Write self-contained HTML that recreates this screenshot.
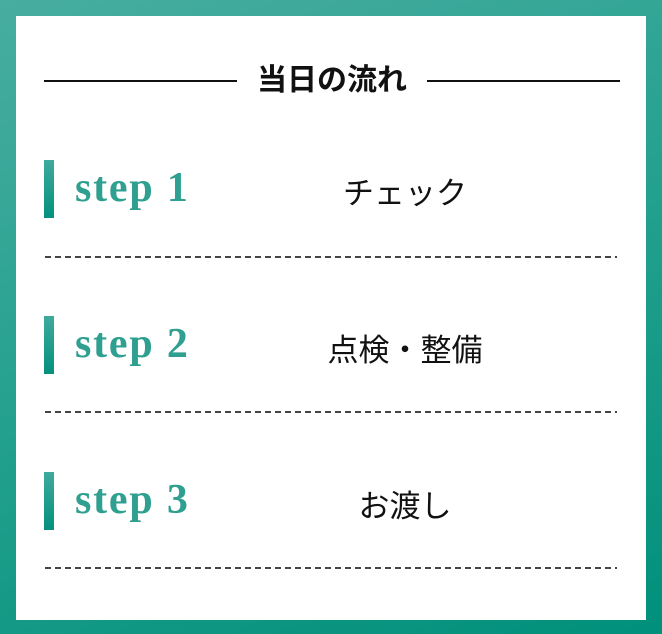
<!DOCTYPE html>
<html><head><meta charset="utf-8"><style>
html,body{margin:0;padding:0}
body{width:662px;height:634px;position:relative;overflow:hidden;
background:linear-gradient(160deg,#48ada1 0%,#23a08e 50%,#00907b 100%);
font-family:"Liberation Sans","Noto Sans CJK JP",sans-serif}
.box{position:absolute;left:16px;top:16px;width:630px;height:604px;background:#fff}
.ln{position:absolute;height:2px;background:#111;top:80px}
.title{position:absolute;left:237px;width:190px;top:61px;text-align:center;font-weight:bold;font-size:30px;line-height:40px;color:#111}
.bar{position:absolute;left:44px;width:10px;height:58px;background:linear-gradient(#3faa9c,#05917d)}
.st{position:absolute;left:75px;font-family:"Liberation Serif",serif;font-weight:bold;font-size:42px;line-height:50px;letter-spacing:1.8px;color:#2f9f90}
.jp{position:absolute;left:250px;width:310px;text-align:center;font-size:31px;line-height:40px;color:#111}
.dash{position:absolute;left:45px;width:572px;height:2px;background:repeating-linear-gradient(90deg,#444 0 6px,transparent 6px 10px)}
</style></head><body>
<div class="box"></div>
<div class="ln" style="left:44px;width:193px"></div>
<div class="ln" style="left:427px;width:193px"></div>
<div class="title">当日の流れ</div>

<div class="bar" style="top:160px"></div>
<div class="st" style="top:163px">step 1</div>
<div class="jp" style="top:174px">チェック</div>
<div class="dash" style="top:256px"></div>

<div class="bar" style="top:316px"></div>
<div class="st" style="top:319px">step 2</div>
<div class="jp" style="top:331px">点検・整備</div>
<div class="dash" style="top:411px"></div>

<div class="bar" style="top:472px"></div>
<div class="st" style="top:475px">step 3</div>
<div class="jp" style="top:487px">お渡し</div>
<div class="dash" style="top:567px"></div>
</body></html>
